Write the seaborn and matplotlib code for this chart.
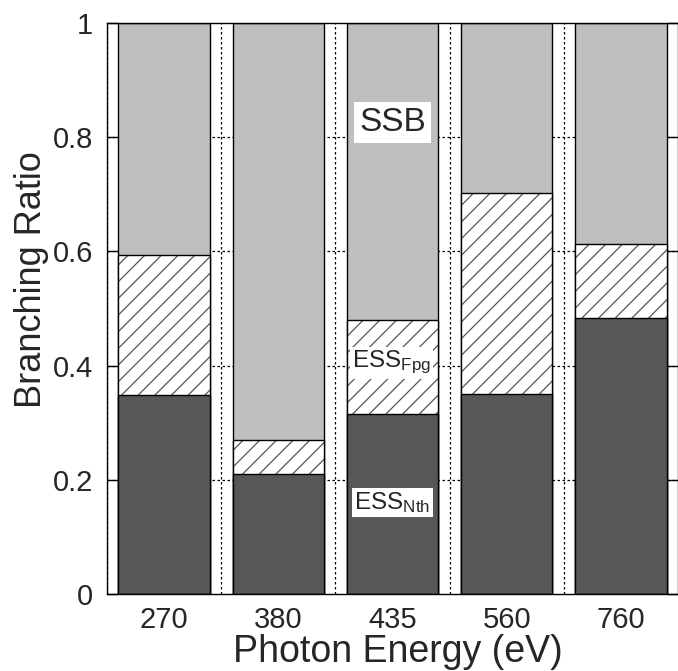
import matplotlib
matplotlib.use("Agg")
import pandas as pd
import matplotlib.pyplot as plt
import seaborn as sns

# branching ratios
energies = ["270", "380", "435", "560", "760"]
ess_nth = [0.348, 0.211, 0.315, 0.350, 0.483]
ess_fpg = [0.245, 0.058, 0.165, 0.352, 0.130]
ssb = [0.407, 0.731, 0.520, 0.298, 0.387]

y_ticks = [0, 0.2, 0.4, 0.6, 0.8, 1]
y_tick_labels = ["0", "0.2", "0.4", "0.6", "0.8", "1"]

sns.set_theme(style="white")
plt.rcParams["font.family"] = ["Liberation Sans", "DejaVu Sans"]
plt.rcParams["mathtext.fontset"] = "custom"
plt.rcParams["mathtext.rm"] = "Liberation Sans"
plt.rcParams["hatch.linewidth"] = 0.9

df = pd.DataFrame({"energy": energies, "nth": ess_nth, "fpg": ess_fpg, "ssb": ssb})
df["fpg_top"] = df["nth"] + df["fpg"]
df["total"] = df["fpg_top"] + df["ssb"]

dark = "#555759"
light = "#bfbfbf"

fig = plt.figure(figsize=(6.78, 6.71), dpi=100)
ax = fig.add_axes([107 / 678, 77 / 671, 571 / 678, 571 / 671])

# dotted grid behind the bars
for y in y_ticks[1:-1]:
    ax.axhline(y, color="black", linestyle=(0, (2, 2)), linewidth=0.9, zorder=0.5)
for x in [-0.5, 0.5, 1.5, 2.5, 3.5]:
    ax.axvline(x, color="black", linestyle=(0, (2, 2)), linewidth=0.9, zorder=0.5)

sns.barplot(data=df, x="energy", y="total", color=light, edgecolor="black",
            linewidth=1, saturation=1, errorbar=None, ax=ax, zorder=2)
sns.barplot(data=df, x="energy", y="fpg_top", color="white", edgecolor="#555555",
            linewidth=0, hatch="//", saturation=1, errorbar=None, ax=ax, zorder=2)
sns.barplot(data=df, x="energy", y="fpg_top", color="black", fill=False,
            linewidth=1, errorbar=None, ax=ax, zorder=2)
sns.barplot(data=df, x="energy", y="nth", color=dark, edgecolor="black",
            linewidth=1, saturation=1, errorbar=None, ax=ax, zorder=2)

ax.text(2, 0.825, "SSB", ha="center", va="center", fontsize=24,
        bbox=dict(facecolor="white", edgecolor="none", pad=3.5), zorder=5)
small_box = dict(facecolor="white", edgecolor="none", pad=1.5)
ax.text(1.99, 0.405, r"$\mathregular{ESS_{Fpg}}$", ha="center", va="center",
        fontsize=17.5, bbox=small_box, zorder=5)
ax.text(2.0, 0.16, r"$\mathregular{ESS_{Nth}}$", ha="center", va="center",
        fontsize=17.5, bbox=small_box, zorder=5)

ax.set_xlim(-0.5, 4.5)
ax.set_ylim(0, 1)
ax.set_yticks(y_ticks)
ax.set_yticklabels(y_tick_labels)
ax.tick_params(axis="y", direction="in", length=8, width=1, left=True, right=True,
               labelsize=21, pad=10, color="black")
ax.tick_params(axis="x", length=0, labelsize=21, pad=9)
for s in ax.spines.values():
    s.set_color("black")
    s.set_linewidth(1)
    s.set_zorder(6)

ax.set_xlabel("Photon Energy (eV)", fontsize=27, labelpad=0, x=0.51)
ax.set_ylabel("Branching Ratio", fontsize=26, labelpad=3, y=0.55)

fig.savefig("out.png", dpi=100)
plt.close()
